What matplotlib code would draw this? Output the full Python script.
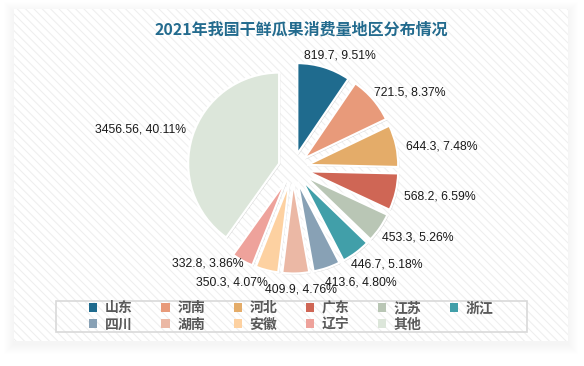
import numpy as np
import matplotlib
matplotlib.use("Agg")
import matplotlib.pyplot as plt
from matplotlib.patches import Rectangle, Patch
import matplotlib.patheffects as pe

plt.rcParams['font.family'] = ['Noto Sans CJK SC', 'DejaVu Sans']

regions = ["山东", "河南", "河北", "广东", "江苏", "浙江", "四川", "湖南", "安徽", "辽宁", "其他"]
consumption = [819.7, 721.5, 644.3, 568.2, 453.3, 446.7, 413.6, 409.9, 350.3, 332.8, 3456.56]
colors = ["#1f6b8e", "#e89a7a", "#e4ac69", "#cf6655", "#b9c6b5", "#419fa9",
          "#88a1b5", "#ebb8a5", "#fdd1a1", "#eea29b", "#dce6da"]
# label tweaks mimicking the spreadsheet's label collision handling
label_nudge_deg = [5.5, 7.7, 3.9, -2.2, -5.5, -7.3, -12, -2.3, 13.9, 12.9, -3.8]
label_nudge_px = [-7, -4, 4.5, 4, -1, -4, 0, 3.5, -2, -10, 2]

W, H = 584, 366
fig = plt.figure(figsize=(W / 100, H / 100), dpi=100)
fig.patch.set_facecolor("white")


def px_rect(x0, y0, x1, y1, **kw):
    # rectangle given in pixel coords (origin top-left)
    return Rectangle((x0 / W, 1 - y1 / H), (x1 - x0) / W, (y1 - y0) / H,
                     transform=fig.transFigure, **kw)


# soft shadow + hatched panel
for i in range(10, 0, -1):
    fig.patches.append(px_rect(14 - i, 9 - i + 3, 568 + i, 341 + i + 3, zorder=-5,
                               facecolor="black", edgecolor="none", alpha=0.005))
fig.patches.append(px_rect(14, 9, 568, 341, facecolor="white", edgecolor="none", zorder=-4))
plt.rcParams['hatch.color'] = "#efefef"
plt.rcParams['hatch.linewidth'] = 0.8
fig.patches.append(px_rect(14, 9, 568, 341, facecolor="none", edgecolor="#efefef",
                           linewidth=0, hatch="\\\\\\\\", zorder=-3))

fig.text(301 / W, 1 - 30 / H, "2021年我国干鲜瓜果消费量地区分布情况", ha="center", va="center",
         fontsize=11.5, fontweight="bold", color="#236b8e")

# pie axes: center (293,168) px, radius 91 px
cx, cy, R = 293, 168, 91
L = 1.55
ax = fig.add_axes([(cx - L * R) / W, 1 - (cy + L * R) / H, 2 * L * R / W, 2 * L * R / H])
ax.set_zorder(2)

explode = 0.16
wedges, _ = ax.pie(consumption, colors=colors, startangle=90, counterclock=False,
                   explode=[explode] * len(consumption),
                   wedgeprops=dict(edgecolor="white", linewidth=1.6))
for w in wedges:
    w.set_path_effects([pe.SimplePatchShadow(offset=(0.8, -0.8), shadow_rgbFace="#888888", alpha=0.35),
                        pe.Normal()])
ax.set_xlim(-L, L)
ax.set_ylim(-L, L)
ax.set_aspect("equal")
ax.axis("off")

total = sum(consumption)
renderer = fig.canvas.get_renderer()
for w, v, nd, npx in zip(wedges, consumption, label_nudge_deg, label_nudge_px):
    mid = np.deg2rad((w.theta1 + w.theta2) / 2)
    ang = np.pi / 2 - mid + np.deg2rad(nd)  # clockwise angle from top
    txt = ax.text(0, 0, f"{v:g}, {v / total * 100:.2f}%", ha="center", va="center",
                  fontsize=8.8, family="Liberation Sans", color="#1a1a1a")
    bb = txt.get_window_extent(renderer)
    hw, hh = bb.width / 2 / R, bb.height / 2 / R
    d = 1 + explode + (4 + npx) / R + abs(np.sin(ang)) * hw + abs(np.cos(ang)) * hh
    txt.set_position((d * np.sin(ang), d * np.cos(ang)))

# legend (filled row by row: first row 6 items, second row 5)
fig.patches.append(px_rect(56, 301, 527, 332, facecolor="none", edgecolor="#d9d9d9",
                           linewidth=1.2, zorder=-2))
handles = [Patch(facecolor=c, edgecolor="none") for c in colors]
order = [0, 6, 1, 7, 2, 8, 3, 9, 4, 10, 5]
leg = fig.legend([handles[i] for i in order], [regions[i] for i in order], loc="center",
                 bbox_to_anchor=(291.5 / W, 1 - 316.5 / H),
                 ncol=6, frameon=False, handlelength=0.6, handleheight=0.6, handletextpad=0.55,
                 columnspacing=2.05, labelspacing=0.15, borderpad=0,
                 prop=dict(family=['Noto Sans CJK SC'], weight="bold", size=10), labelcolor="#595959")
leg.set_zorder(3)

fig.savefig("out.png", dpi=100)
